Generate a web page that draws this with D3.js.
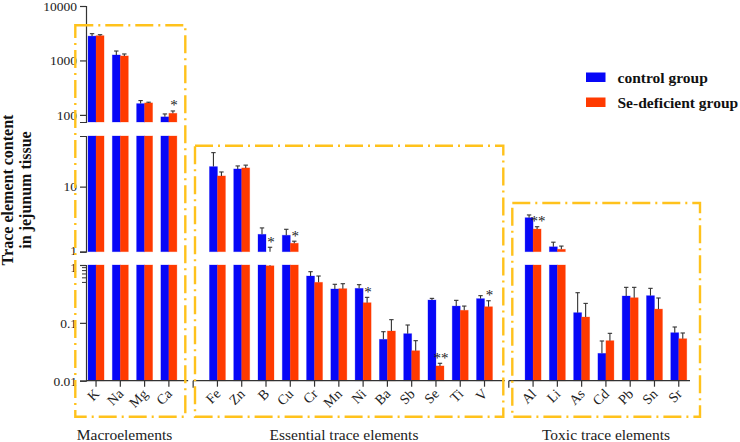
<!DOCTYPE html>
<html><head><meta charset="utf-8">
<script src="https://cdn.jsdelivr.net/npm/d3@7"></script>
<style>
body{margin:0;background:#fff}
text{font-family:"Liberation Serif","Times New Roman",serif}
</style>
</head><body>
<svg id="chart" width="740" height="442"></svg>
<script>
// ---------------- DATA ----------------
const categories = ["K","Na","Mg","Ca","Fe","Zn","B","Cu","Cr","Mn","Ni","Ba","Sb","Se","Ti","V","Al","Li","As","Cd","Pb","Sn","Sr"];
const slots = ["K","Na","Mg","Ca","_gap1","Fe","Zn","B","Cu","Cr","Mn","Ni","Ba","Sb","Se","Ti","V","_gap2","Al","Li","As","Cd","Pb","Sn","Sr"];
const groupNames = ["Macroelements","Essential trace elements","Toxic trace elements"];
const groupMembers = [
  ["K","Na","Mg","Ca"],
  ["Fe","Zn","B","Cu","Cr","Mn","Ni","Ba","Sb","Se","Ti","V"],
  ["Al","Li","As","Cd","Pb","Sn","Sr"]
];
const controlMean   = [2800,1260,161,92, 20.3,18.7,1.85,1.79,0.645,0.385,0.395,0.0519,0.065,0.248,0.195,0.262, 3.33,1.19,0.150,0.0297,0.291,0.295,0.0676];
const controlSD     = [300,230,22,12, 13.0,2.1,0.47,0.42,0.121,0.079,0.062,0.0184,0.0268,0.017,0.050,0.033, 0.34,0.21,0.182,0.0189,0.120,0.100,0.0172];
const deficientMean = [2850,1210,166,107, 14.6,19.4,0.97,1.35,0.502,0.390,0.223,0.0723,0.033,0.0180,0.165,0.190, 2.23,1.09,0.126,0.0492,0.272,0.173,0.0532];
const deficientSD   = [120,105,5,11, 2.2,2.0,0.20,0.10,0.143,0.085,0.053,0.0412,0.0162,0.0020,0.030,0.051, 0.19,0.13,0.091,0.0167,0.139,0.096,0.0136];
const significance  = ["","","","*", "","","*","*","","","*","","","**","","*", "**","","","","","",""];
const seriesNames = ["control group","Se-deficient group"];
const seriesColors = ["#0707f7","#ff3a00"];
const yTicksTop = [10000,1000,100];
const yTicksMid = [10,1];
const yTicksBottom = [1,0.1,0.01];
const yMinorBottom = [0.9,0.8,0.7,0.6,0.5];

// ---------------- LAYOUT ----------------
const svg = d3.select("#chart");
const axisColor = "#333";
const x = d3.scaleBand().domain(slots).range([83.9, 690.9]);
const bw = 8;
const segments = [
  {y: d3.scaleLog().domain([74,10000]).range([122,6]), ticks: yTicksTop, minor: [], nudge: {}},
  {y: d3.scaleLog().domain([1,60]).range([251.7,136]), ticks: yTicksMid, minor: [], nudge: {1: -1.2}},
  {y: d3.scaleLog().domain([0.01,1]).range([380.7,265]), ticks: yTicksBottom, minor: yMinorBottom, nudge: {1: 2}}
];
const cx = c => x(c) + x.bandwidth()/2;
const series = [
  {mean: controlMean, sd: controlSD, color: seriesColors[0], off: -bw},
  {mean: deficientMean, sd: deficientSD, color: seriesColors[1], off: 0}
];

// bars and error bars per segment
segments.forEach(seg => {
  const [dmin, dmax] = seg.y.domain();
  const g = svg.append("g");
  series.forEach(s => {
    categories.forEach((c, i) => {
      const m = s.mean[i], top = m + s.sd[i];
      const x0 = cx(c) + s.off;
      if (m > dmin) {
        const yv = seg.y(Math.min(m, dmax));
        g.append("rect").attr("x", x0).attr("width", bw)
          .attr("y", yv).attr("height", seg.y(dmin) - yv)
          .attr("fill", s.color).attr("stroke", s.color).attr("stroke-opacity", 0.35).attr("stroke-width", 0.8);
      }
      if (top > dmin && m < dmax) {
        const ya = seg.y(Math.max(m, dmin)), yb = seg.y(Math.min(top, dmax));
        const xc = x0 + bw/2;
        g.append("line").attr("x1", xc).attr("x2", xc).attr("y1", ya).attr("y2", yb)
          .attr("stroke", axisColor).attr("stroke-width", 1.1);
        if (top <= dmax) {
          g.append("line").attr("x1", xc-2.2).attr("x2", xc+2.2).attr("y1", yb).attr("y2", yb)
            .attr("stroke", axisColor).attr("stroke-width", 1.1);
        }
      }
    });
  });
  categories.forEach((c, i) => {
    const sig = significance[i];
    if (!sig) return;
    const top = deficientMean[i] + deficientSD[i];
    if (top > dmin && top <= dmax) {
      svg.append("text").attr("x", cx(c) + bw/2 + 1).attr("y", seg.y(top) - 0.5)
        .attr("text-anchor", "middle").attr("font-size", 15).attr("fill", "#222").text(sig);
    }
  });
  const ax = svg.append("g").attr("transform", "translate(86,0)")
    .call(d3.axisLeft(seg.y).tickValues(seg.ticks).tickSize(6).tickSizeOuter(6).tickPadding(3).tickFormat(d => String(d)));
  ax.selectAll("path,line").attr("stroke", axisColor).attr("stroke-width", 1.2);
  ax.selectAll("text").attr("font-size", 13.5).attr("fill", "#222").style("font-family", "Liberation Serif, serif")
    .attr("transform", d => seg.nudge[d] ? `translate(0,${seg.nudge[d]})` : null);
  seg.minor.forEach(v => {
    svg.append("line").attr("x1", 82).attr("x2", 86).attr("y1", seg.y(v)).attr("y2", seg.y(v))
      .attr("stroke", axisColor).attr("stroke-width", 1);
  });
});

// x axis
const xAxisY = 380.7;
const xa = svg.append("g").attr("transform", `translate(0,${xAxisY})`)
  .call(d3.axisBottom(x).tickValues(categories).tickSize(6).tickSizeOuter(0));
xa.select(".domain").remove();
xa.selectAll("line").attr("stroke", axisColor).attr("stroke-width", 1.2);
xa.selectAll("text").attr("font-size", 14).attr("fill", "#222")
  .style("font-family", "Liberation Serif, serif")
  .attr("text-anchor", "end").attr("dy", null).attr("y", 0)
  .attr("transform", "translate(4,14) rotate(-45)");
const gapC1 = cx("_gap1"), gapC2 = cx("_gap2");
const xSegs = [[86, gapC1 - 5], [gapC1, gapC2 - 4], [gapC2, 690]];
xSegs.forEach((s, k) => {
  svg.append("line").attr("x1", s[0]).attr("x2", s[1]).attr("y1", xAxisY).attr("y2", xAxisY)
    .attr("stroke", axisColor).attr("stroke-width", 1.2);
  if (k > 0) svg.append("line").attr("x1", s[0]).attr("x2", s[0]).attr("y1", xAxisY).attr("y2", xAxisY + 7)
    .attr("stroke", axisColor).attr("stroke-width", 1.2);
});

// group boxes (dash-dot)
const boxes = [[75.3,25.3,185.3,416.7],[195,145.7,503.3,416.7],[512.3,203,700,416.7]];
boxes.forEach(b => {
  svg.append("rect").attr("x", b[0]).attr("y", b[1]).attr("width", b[2]-b[0]).attr("height", b[3]-b[1])
    .attr("fill", "none").attr("stroke", "#ffc21c").attr("stroke-width", 2.4)
    .attr("stroke-dasharray", "18,5,2,5");
});

// group labels
const groupLabelX = [124.5, 344, 606];
groupNames.forEach((n, k) => {
  svg.append("text").attr("x", groupLabelX[k]).attr("y", 440).attr("text-anchor", "middle")
    .attr("font-size", 15.5).attr("fill", "#222").text(n);
});

// y title
const yt = svg.append("g").attr("transform", "translate(0,190) rotate(-90)");
yt.append("text").attr("x", 0).attr("y", 12.5).attr("text-anchor", "middle")
  .attr("font-size", 16).attr("font-weight", "bold").attr("fill", "#111").text("Trace element content");
yt.append("text").attr("x", 0).attr("y", 30.5).attr("text-anchor", "middle")
  .attr("font-size", 16).attr("font-weight", "bold").attr("fill", "#111").text("in jejunum tissue");

// legend
seriesNames.forEach((n, k) => {
  const ly = 72.5 + k * 25;
  svg.append("rect").attr("x", 586).attr("y", ly).attr("width", 19.5).attr("height", 9.5).attr("fill", seriesColors[k]);
  svg.append("text").attr("x", 617.5).attr("y", ly + 10.5).attr("font-size", 15.5).attr("font-weight", "bold")
    .attr("fill", "#111").text(n);
});
</script>
</body></html>
